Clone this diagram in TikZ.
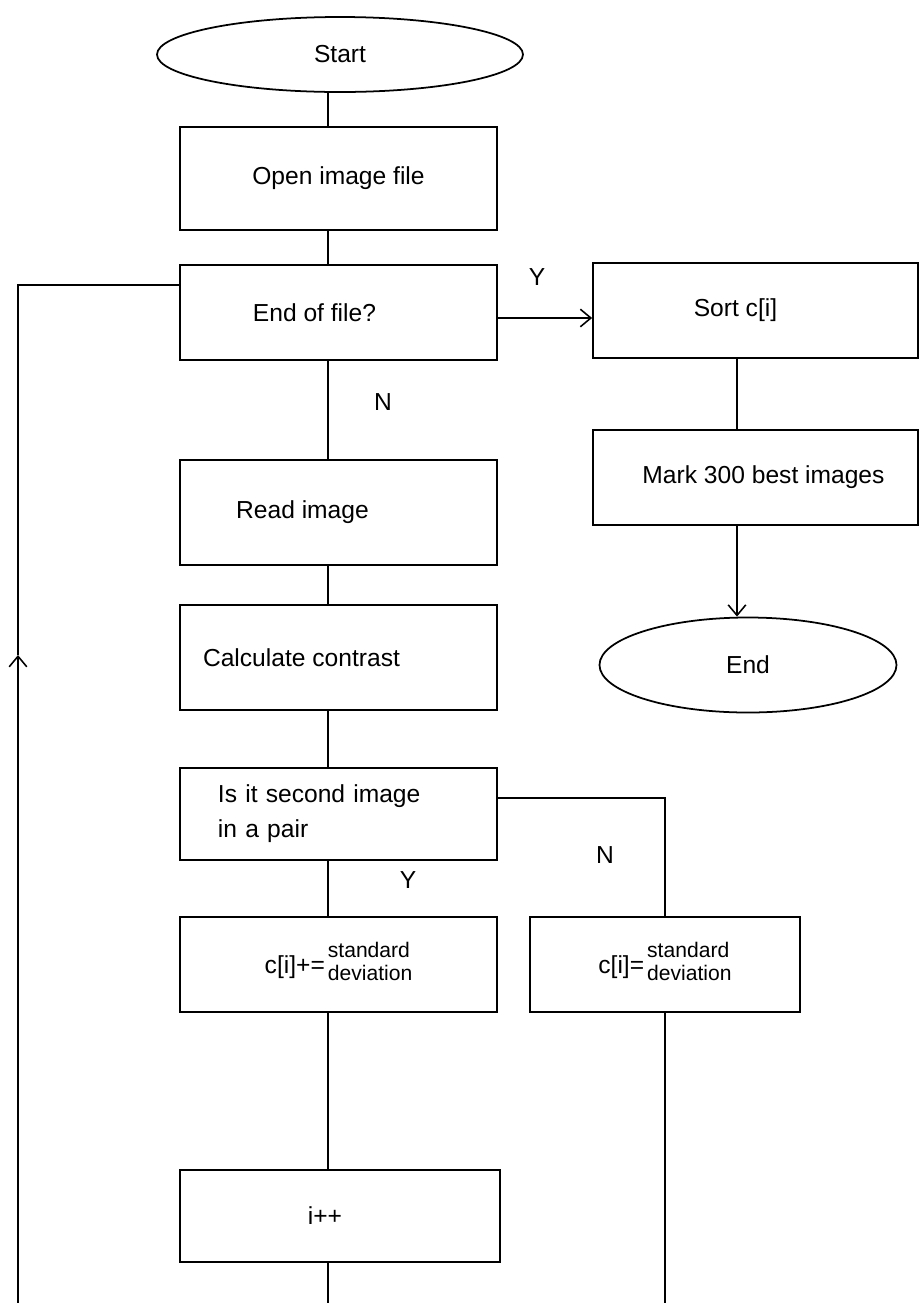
\documentclass[tikz,border=0pt]{standalone}
\usepackage{fontspec}
\setmainfont{Liberation Sans}
\usetikzlibrary{arrows.meta,shapes.geometric}

\tikzset{
  procbox/.style={draw, rectangle, line width=1pt, minimum width=63.4mm, minimum height=19mm, inner sep=0pt},
  termnode/.style={draw, ellipse, line width=1pt, inner sep=0pt},
  flowline/.style={line width=0.9pt},
  flowarrow/.style={flowline, -{Straight Barb[length=6pt,width=10pt]}}
}

% text nudged left inside its box
\newcommand{\padright}[1]{\hspace*{#1}\null}

\begin{document}
\begin{tikzpicture}[x=0.2mm, y=-0.2mm, font=\fontsize{14}{17}\selectfont]
  \useasboundingbox (0,0) rectangle (919,1303);

  % Terminals
  \node[termnode, minimum width=73.2mm, minimum height=15mm] (start) at (340,54.5) {Start};
  \node[termnode, minimum width=59.4mm, minimum height=19mm] (end) at (748,665) {End};

  % Main column
  \node[procbox, minimum height=20.6mm] (open) at (338.5,178.5) {Open image file};
  \node[procbox] (eof) at (338.5,312.5) {End of file?\padright{9.6mm}};
  \node[procbox, minimum height=21mm] (read) at (338.5,512.5) {Read image\padright{14.4mm}};
  \node[procbox, minimum height=21mm] (calc) at (338.5,657.5) {Calculate contrast\padright{14.8mm}};
  \node[procbox, minimum height=18.4mm, align=left, text width=48.2mm, inner xsep=7.6mm,
        font=\fontsize{14}{20}\selectfont] (pair) at (338.5,814) {Is it second image\\in a pair};
  \node[procbox] (inc) at (338.5,964.5)
    {\raisebox{-2pt}{c[i]+=}\hspace{0.6mm}{\fontsize{12}{13}\selectfont\begin{tabular}{@{}l@{}}standard\\deviation\end{tabular}}};
  \node[procbox, minimum width=64mm, minimum height=18.4mm] (incr) at (340,1216) {i++\padright{6mm}};

  % Right column
  \node[procbox, minimum width=65mm] (sort) at (755.5,310.5) {Sort c[i]\padright{8mm}};
  \node[procbox, minimum width=65mm] (mark) at (755.5,477.5) {\hspace{3.2mm}Mark 300 best images};
  \node[procbox, minimum width=54mm] (set) at (665,964.5)
    {\raisebox{-2pt}{c[i]=}\hspace{0.6mm}{\fontsize{12}{13}\selectfont\begin{tabular}{@{}l@{}}standard\\deviation\end{tabular}}};

  % Branch labels
  \node (lblY1) at (537,277) {Y};
  \node (lblN1) at (383,402) {N};
  \node (lblN2) at (605,855) {N};
  \node (lblY2) at (408,880) {Y};

  % Guide coordinates
  \coordinate (spine) at (328,0);
  \coordinate (rspine) at (737,0);
  \coordinate (bottom) at (0,1303);
  \coordinate (loopbot) at (18,1303);
  \coordinate (loopmid) at (18,655);
  \coordinate (looptop) at (18,285);

  % Connectors, main column
  \draw[flowline] (spine |- start.south) -- (spine |- open.north);
  \draw[flowline] (spine |- open.south) -- (spine |- eof.north);
  \draw[flowline] (spine |- eof.south) -- (spine |- read.north);
  \draw[flowline] (spine |- read.south) -- (spine |- calc.north);
  \draw[flowline] (spine |- calc.south) -- (spine |- pair.north);
  \draw[flowline] (spine |- pair.south) -- (spine |- inc.north);
  \draw[flowline] (spine |- inc.south) -- (spine |- incr.north);
  \draw[flowline] (spine |- incr.south) -- (spine |- bottom);

  % Connectors, branches
  \draw[flowarrow] ([yshift=-1.1mm]eof.east) -- ([yshift=-1.1mm]eof.east -| sort.west);
  \draw[flowline] (rspine |- sort.south) -- (rspine |- mark.north);
  \draw[flowarrow] (rspine |- mark.south) -- (rspine |- end.north);
  \draw[flowline] ([yshift=3.2mm]pair.east) -| (set.north);
  \draw[flowline] (set.south) -- (set.south |- bottom);

  % Loop back
  \draw[flowarrow] (loopbot) -- (loopmid);
  \draw[flowline] (loopmid) -- (looptop) -- (looptop -| eof.west);

\end{tikzpicture}
\end{document}
